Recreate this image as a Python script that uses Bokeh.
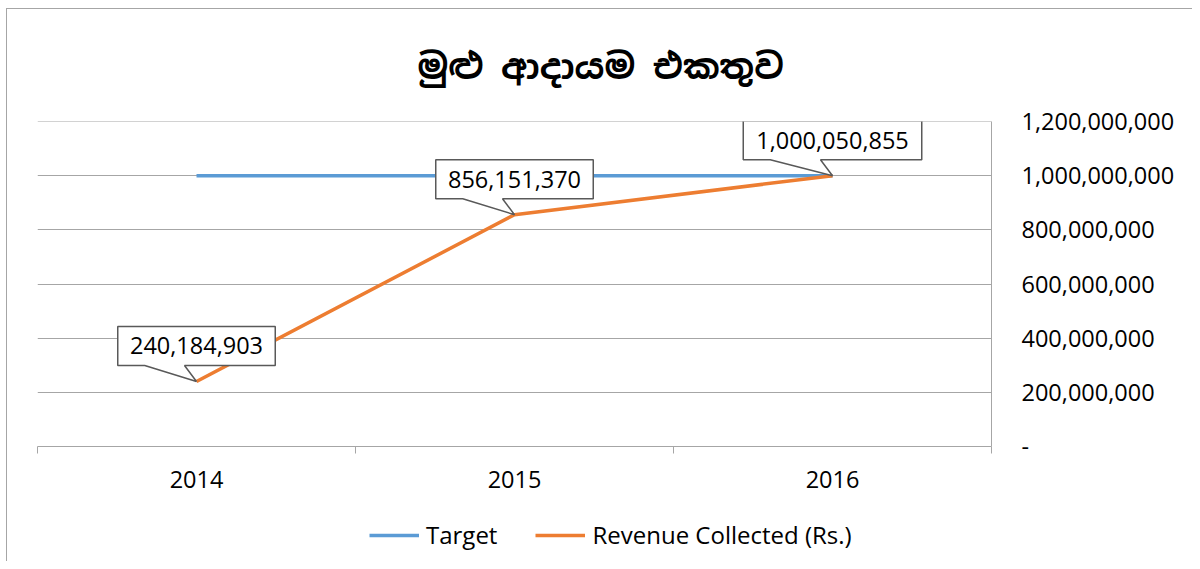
from bokeh.plotting import figure
from bokeh.layouts import column
from bokeh.models import (Range1d, FixedTicker, NumeralTickFormatter, Label,
                          PolyAnnotation, Legend, LegendItem)
from bokeh.embed import file_html
from bokeh.resources import INLINE

# ---- data ----
title_text = "මුළු ආදායම එකතුව"
years = ["2014", "2015", "2016"]
target = [1000000000, 1000000000, 1000000000]
revenue = [240184903, 856151370, 1000050855]
revenue_labels = ["240,184,903", "856,151,370", "1,000,050,855"]
y_ticks = [0, 200000000, 400000000, 600000000, 800000000, 1000000000, 1200000000]
series_names = ["Target", "Revenue Collected (Rs.)"]

FONT = "Open Sans"
GRID = "#a6a6a6"
BLUE = "#5b9bd5"
ORANGE = "#ed7d31"

OX, OY = 7, 9          # content origin (css margin + border)
W = 1185
H_MAIN = 500
H_LEG = 52
FL, FT = 37 - OX, 121 - OY
FW, FH = 954, 325
FR = W - FL - FW
FB = H_MAIN - FT - FH

x_pos = list(range(len(years)))
x0, x1 = -0.5, len(years) - 0.5
y0, y1 = 0, 1200000000

p = figure(width=W, height=H_MAIN, output_backend="svg", toolbar_location=None,
           x_range=Range1d(x0, x1), y_range=Range1d(y0, y1 + 300000),
           y_axis_location="right",
           min_border_left=FL, min_border_right=FR,
           min_border_top=FT, min_border_bottom=FB)
p.outline_line_color = None
p.background_fill_color = "white"
p.border_fill_color = "white"

# title
p.title.text = title_text
p.title.align = "left"
p.title.vertical_align = "top"
p.title.offset = 380
p.title.standoff = 61
p.title.text_font = "Noto Sans Sinhala"
p.title.text_font_style = "bold"
p.title.text_font_size = "35px"
p.title.text_color = "#000000"

# grid
p.xgrid.grid_line_color = None
p.ygrid.ticker = FixedTicker(ticks=y_ticks)
p.ygrid.grid_line_color = GRID
p.ygrid.grid_line_width = 1

# x axis
xa = p.xaxis[0]
xa.ticker = FixedTicker(ticks=x_pos, minor_ticks=[i - 0.5 for i in range(len(years) + 1)])
xa.major_label_overrides = {i: y for i, y in enumerate(years)}
xa.major_tick_line_color = None
xa.major_tick_out = 0
xa.major_tick_in = 0
xa.minor_tick_line_color = GRID
xa.minor_tick_out = 7
xa.minor_tick_in = 0
xa.axis_line_color = GRID
xa.major_label_standoff = 17
xa.major_label_text_font = FONT
xa.major_label_text_font_size = "23.5px"
xa.major_label_text_color = "#000000"

# y axis (right)
ya = p.yaxis[0]
ya.ticker = FixedTicker(ticks=y_ticks)
ya.formatter = NumeralTickFormatter(format="0,0")
ya.major_label_overrides = {0: "-"}
ya.axis_line_color = GRID
ya.major_tick_line_color = None
ya.major_tick_out = 0
ya.major_tick_in = 0
ya.minor_tick_line_color = None
ya.major_label_standoff = 30
ya.major_label_text_font = FONT
ya.major_label_text_font_size = "23.5px"
ya.major_label_text_color = "#000000"

# series
p.line(x_pos, target, line_color=BLUE, line_width=3.5)
p.line(x_pos, revenue, line_color=ORANGE, line_width=3.5)

# callouts (pixel offsets converted through the frame scale)
dx = (x1 - x0) / FW
dy = (y1 - y0) / FH
for xi, yi, txt in zip(x_pos, revenue, revenue_labels):
    bw = 10.5 * len(txt) + 42
    left, right = -bw / 2, bw / 2
    bot, top = 16, 55
    pl, pr = left + 27, -12
    pts = [(left, bot), (pl, bot), (0, 0), (pr, bot), (right, bot),
           (right, top), (left, top)]
    p.add_layout(PolyAnnotation(
        xs=[xi + a * dx for a, b in pts], ys=[yi + b * dy for a, b in pts],
        xs_units="data", ys_units="data",
        fill_color="white", fill_alpha=1.0,
        line_color="#595959", line_alpha=1.0, line_width=1.5))
    p.add_layout(Label(x=xi, y=yi, y_offset=(bot + top) / 2, text=txt,
                       text_align="center", text_baseline="middle",
                       text_font=FONT, text_font_size="23.5px",
                       text_color="#000000"))

# legend strip (separate small figure under the chart); its lines use the
# series data but lie outside this strip's view, so only the legend shows
lf = figure(width=W, height=H_LEG, output_backend="svg", toolbar_location=None,
            x_axis_type=None, y_axis_type=None, min_border=0,
            x_range=Range1d(100, 101), y_range=Range1d(0, 1))
lf.outline_line_color = None
lf.grid.visible = False
lf.background_fill_color = "white"
lf.border_fill_color = "white"
g_t = lf.line(x_pos, target, line_color=BLUE, line_width=3.5)
g_r = lf.line(x_pos, revenue, line_color=ORANGE, line_width=3.5)
legend = Legend(items=[LegendItem(label=series_names[0], renderers=[g_t]),
                       LegendItem(label=series_names[1], renderers=[g_r])],
                orientation="horizontal", location=(332, 10),
                padding=0, margin=0, spacing=38, label_standoff=7,
                glyph_width=50, glyph_height=20,
                border_line_color=None, background_fill_alpha=0,
                label_text_font=FONT, label_text_font_size="24px",
                label_text_color="#000000")
lf.add_layout(legend, "center")

layout = column(p, lf, spacing=0,
                styles={"margin-left": "6px", "margin-top": "8px",
                        "border-left": "1px solid #a6a6a6",
                        "border-top": "1px solid #a6a6a6"})

open("out.html", "w").write(file_html(layout, INLINE))
